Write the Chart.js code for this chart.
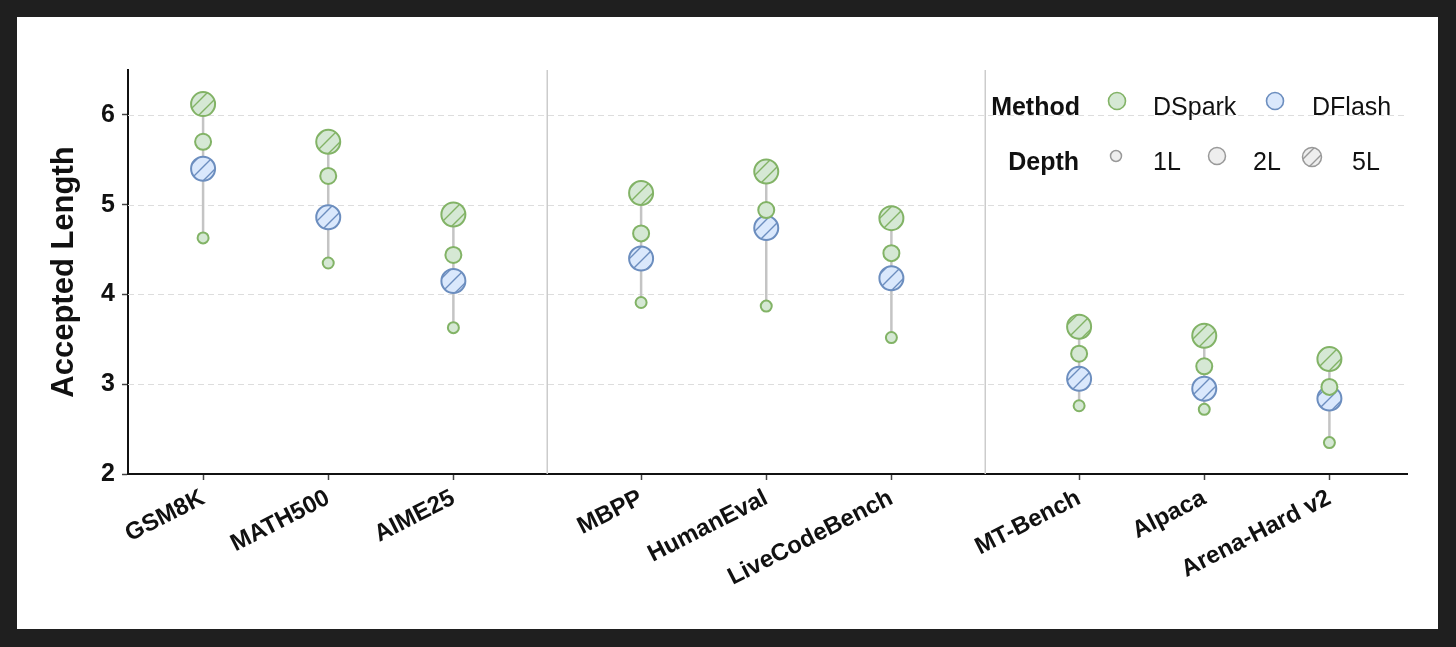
<!DOCTYPE html>
<html>
<head>
<meta charset="utf-8">
<title>Accepted Length</title>
<script src="https://cdn.jsdelivr.net/npm/chart.js@4.4.1/dist/chart.umd.min.js"></script>
<style>
  html, body { margin: 0; padding: 0; background: #1f1f1f; }
  #wrap { position: absolute; left: 17px; top: 17px; width: 1421px; height: 612px; background: #fff; }
</style>
</head>
<body>
<div id="wrap"><canvas id="chart"></canvas></div>
<script>
// Benchmarks, grouped (math / code / chat)
const categories = ['GSM8K', 'MATH500', 'AIME25', 'MBPP', 'HumanEval', 'LiveCodeBench', 'MT-Bench', 'Alpaca', 'Arena-Hard v2'];
const groupOf = [0, 0, 0, 1, 1, 1, 2, 2, 2];

// Accepted length per benchmark
const dspark1L = [4.63, 4.35, 3.63, 3.91, 3.87, 3.52, 2.76, 2.72, 2.35];
const dspark2L = [5.70, 5.32, 4.44, 4.68, 4.94, 4.46, 3.34, 3.20, 2.97];
const dspark5L = [6.12, 5.70, 4.89, 5.13, 5.37, 4.85, 3.64, 3.54, 3.28];
const dflash5L = [5.40, 4.86, 4.15, 4.40, 4.74, 4.18, 3.06, 2.95, 2.84];

const yTicks = [2, 3, 4, 5, 6];

// colours
const GREEN_FILL = '#d5e8d4', GREEN_LINE = '#82b366';
const BLUE_FILL = '#dae8fc', BLUE_LINE = '#6c8ebf';
const FONT = "'Liberation Sans', Arial, sans-serif";

// x position of each benchmark: half a slot extra between groups
const xPos = categories.map((c, i) => i + 0.5 * groupOf[i]);
const separators = [];
for (let i = 1; i < categories.length; i++) {
  if (groupOf[i] !== groupOf[i - 1]) separators.push((xPos[i] + xPos[i - 1]) / 2);
}

/**
 * Diagonal hatch pattern ("//")
 */
function hatch(fill, line) {
  const s = 14;
  const c = document.createElement('canvas');
  c.width = c.height = s;
  const g = c.getContext('2d');
  g.fillStyle = fill;
  g.fillRect(0, 0, s, s);
  g.strokeStyle = line;
  g.lineWidth = 1.4;
  g.beginPath();
  g.moveTo(-1, s + 1); g.lineTo(s + 1, -1);
  g.moveTo(-1, 1); g.lineTo(1, -1);
  g.moveTo(s - 1, s + 1); g.lineTo(s + 1, s - 1);
  g.stroke();
  return g.createPattern(c, 'repeat');
}

const toPoints = arr => arr.map((v, i) => ({ x: xPos[i], y: v }));

// vertical connector from lowest to highest value of each benchmark
const connector = [];
categories.forEach((c, i) => {
  const vals = [dspark1L[i], dspark2L[i], dspark5L[i], dflash5L[i]];
  connector.push({ x: xPos[i], y: Math.min(...vals) });
  connector.push({ x: xPos[i], y: Math.max(...vals) });
  connector.push({ x: xPos[i], y: null });
});

// grid lines + group separators, behind the markers
const backdrop = {
  id: 'backdrop',
  beforeDatasetsDraw(chart) {
    const { ctx, chartArea: a, scales: { x, y } } = chart;
    ctx.save();
    ctx.strokeStyle = '#dddddd';
    ctx.lineWidth = 1;
    ctx.setLineDash([6, 4]);
    yTicks.slice(1).forEach(v => {
      const py = Math.round(y.getPixelForValue(v)) + 0.5;
      ctx.beginPath(); ctx.moveTo(a.left, py); ctx.lineTo(a.right, py); ctx.stroke();
    });
    ctx.setLineDash([]);
    ctx.strokeStyle = '#cccccc';
    ctx.lineWidth = 1.5;
    separators.forEach(v => {
      const px = x.getPixelForValue(v);
      ctx.beginPath(); ctx.moveTo(px, a.top); ctx.lineTo(px, a.bottom); ctx.stroke();
    });
    ctx.restore();
  }
};

function circle(ctx, x, y, r, fill, line, lw) {
  ctx.beginPath();
  ctx.arc(x, y, r, 0, Math.PI * 2);
  ctx.fillStyle = fill; ctx.fill();
  ctx.lineWidth = lw; ctx.strokeStyle = line; ctx.stroke();
}

// two-row legend: Method / Depth
const legendBox = {
  id: 'legendBox',
  afterDraw(chart) {
    const ctx = chart.ctx;
    ctx.save();
    ctx.fillStyle = '#111';
    ctx.textBaseline = 'alphabetic';

    ctx.font = 'bold 25px ' + FONT;
    ctx.textAlign = 'right';
    ctx.fillText('Method', 1063, 98);
    ctx.fillText('Depth', 1062, 153);

    ctx.font = '25px ' + FONT;
    ctx.textAlign = 'left';
    circle(ctx, 1100, 84, 8.5, GREEN_FILL, GREEN_LINE, 1.6);
    ctx.fillStyle = '#111'; ctx.fillText('DSpark', 1136, 98);
    circle(ctx, 1258, 84, 8.5, BLUE_FILL, BLUE_LINE, 1.6);
    ctx.fillStyle = '#111'; ctx.fillText('DFlash', 1295, 98);

    circle(ctx, 1099, 139, 5.5, '#eeeeee', '#999999', 1.5);
    ctx.fillStyle = '#111'; ctx.fillText('1L', 1136, 153);
    circle(ctx, 1200, 139, 8.5, '#eeeeee', '#999999', 1.5);
    ctx.fillStyle = '#111'; ctx.fillText('2L', 1236, 153);
    circle(ctx, 1295, 140, 9.5, hatch('#eeeeee', '#999999'), '#999999', 1.5);
    ctx.fillStyle = '#111'; ctx.fillText('5L', 1335, 153);
    ctx.restore();
  }
};

const ctx = document.getElementById('chart').getContext('2d');

new Chart(ctx, {
  type: 'scatter',
  data: {
    datasets: [
      {
        label: 'range',
        data: connector,
        showLine: true,
        spanGaps: false,
        borderColor: '#c4c4c4',
        borderWidth: 2.5,
        pointRadius: 0,
        order: 10
      },
      {
        label: 'DFlash 5L',
        data: toPoints(dflash5L),
        pointRadius: 12,
        pointBackgroundColor: hatch(BLUE_FILL, BLUE_LINE),
        pointBorderColor: BLUE_LINE,
        pointBorderWidth: 2,
        order: 5
      },
      {
        label: 'DSpark 5L',
        data: toPoints(dspark5L),
        pointRadius: 12,
        pointBackgroundColor: hatch(GREEN_FILL, GREEN_LINE),
        pointBorderColor: GREEN_LINE,
        pointBorderWidth: 2,
        order: 4
      },
      {
        label: 'DSpark 1L',
        data: toPoints(dspark1L),
        pointRadius: 5.5,
        pointBackgroundColor: GREEN_FILL,
        pointBorderColor: GREEN_LINE,
        pointBorderWidth: 2,
        order: 3
      },
      {
        label: 'DSpark 2L',
        data: toPoints(dspark2L),
        pointRadius: 8,
        pointBackgroundColor: GREEN_FILL,
        pointBorderColor: GREEN_LINE,
        pointBorderWidth: 2,
        order: 2
      }
    ]
  },
  options: {
    responsive: true,
    maintainAspectRatio: false,
    animation: false,
    layout: { padding: { top: 53, right: 31, left: 0, bottom: 0 } },
    plugins: {
      legend: { display: false },
      tooltip: { enabled: false }
    },
    scales: {
      x: {
        type: 'linear',
        min: -0.6,
        max: 9.62,
        afterBuildTicks: scale => { scale.ticks = xPos.map(v => ({ value: v })); },
        afterFit: scale => { scale.height = 155; },
        ticks: {
          autoSkip: false,
          minRotation: 27,
          maxRotation: 27,
          padding: 4,
          color: '#111',
          font: { family: FONT, size: 24, weight: 'bold' },
          callback: (value, index) => categories[index]
        },
        grid: { drawOnChartArea: false, drawTicks: true, tickLength: 6, tickColor: '#444', tickWidth: 1.5 },
        border: { color: '#111', width: 2 }
      },
      y: {
        min: 2,
        max: 6.5,
        afterBuildTicks: scale => { scale.ticks = yTicks.map(v => ({ value: v })); },
        afterFit: scale => { scale.width = 111; },
        ticks: {
          padding: 7,
          color: '#111',
          font: { family: FONT, size: 25, weight: 'bold' }
        },
        grid: { drawOnChartArea: false, drawTicks: true, tickLength: 6, tickColor: '#444', tickWidth: 1.5 },
        border: { color: '#111', width: 2 },
        title: {
          display: true,
          text: 'Accepted Length',
          color: '#111',
          font: { family: FONT, size: 31, weight: 'bold' },
          padding: { top: 29, bottom: 0 }
        }
      }
    }
  },
  plugins: [backdrop, legendBox]
});
</script>
</body>
</html>
